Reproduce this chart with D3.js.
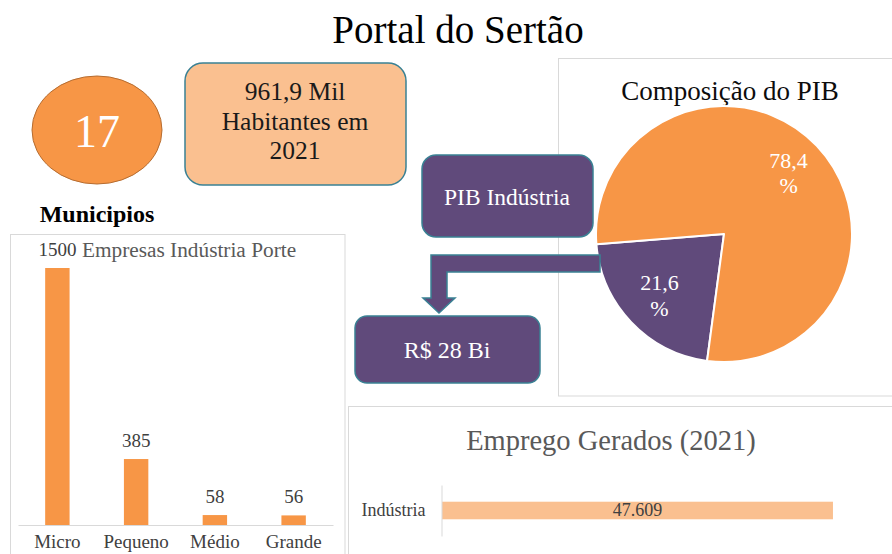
<!DOCTYPE html>
<html>
<head>
<meta charset="utf-8">
<script src="https://cdn.jsdelivr.net/npm/d3@7"></script>
<style>
  html, body { margin: 0; padding: 0; background: #fff; }
  svg { display: block; }
  svg text { font-family: "Liberation Serif", "Times New Roman", "DejaVu Serif", serif; }
</style>
</head>
<body>
<div id="chart"></div>
<script>
const municipios = 17;
const habitantesLabel = ['961,9 Mil', 'Habitantes em', '2021'];
const pibIndustriaLabel = 'R$ 28 Bi';

const portes = ['Micro', 'Pequeno', 'Médio', 'Grande'];
const empresas = [1500, 385, 58, 56];

const pibSetores = ['Indústria', 'Demais setores'];
const pibShares = [21.6, 78.4];

const empregoSetores = ['Indústria'];
const empregos = [47609];

// colours
const orange = '#f79646';
const lightOrange = '#fac090';
const purple = '#604a7b';
const teal = '#3a8194';
const grid = '#d9d9d9';
const serif = '"Liberation Serif", "Times New Roman", "DejaVu Serif", serif';

const br = d3.formatLocale({ decimal: ',', thousands: '.', grouping: [3], currency: ['R$ ', ''] });

const svg = d3.select('#chart').append('svg')
  .attr('width', 892)
  .attr('height', 554);

// page title
svg.append('text')
  .attr('x', 458).attr('y', 43)
  .attr('text-anchor', 'middle')
  .attr('font-size', 39)
  .attr('fill', '#000')
  .text('Portal do Sertão');

// ---- KPI shapes ----
svg.append('ellipse')
  .attr('cx', 97).attr('cy', 130).attr('rx', 65).attr('ry', 54)
  .attr('fill', orange).attr('stroke', '#b66d31').attr('stroke-width', 1);
svg.append('text')
  .attr('x', 97).attr('y', 147)
  .attr('text-anchor', 'middle')
  .attr('font-size', 46).attr('fill', '#fff')
  .text(municipios);
svg.append('text')
  .attr('x', 97).attr('y', 222)
  .attr('text-anchor', 'middle')
  .attr('font-size', 24).attr('font-weight', 'bold')
  .text('Municipios');

svg.append('rect')
  .attr('x', 185).attr('y', 63).attr('width', 221).attr('height', 122)
  .attr('rx', 18)
  .attr('fill', lightOrange).attr('stroke', teal).attr('stroke-width', 1.5);
svg.append('g').selectAll('text')
  .data(habitantesLabel)
  .join('text')
  .attr('x', 295).attr('y', (d, i) => 100 + i * 29.5)
  .attr('text-anchor', 'middle')
  .attr('font-size', 25.5).attr('fill', '#1a1a1a')
  .text(d => d);

// ---- panels ----
svg.append('rect').attr('x', 10.5).attr('y', 234.5).attr('width', 334.5).attr('height', 340)
  .attr('fill', '#fff').attr('stroke', grid);
svg.append('rect').attr('x', 558.5).attr('y', 58.5).attr('width', 360).attr('height', 337.5)
  .attr('fill', '#fff').attr('stroke', grid);
svg.append('rect').attr('x', 348.5).attr('y', 406.5).attr('width', 570).attr('height', 200)
  .attr('fill', '#fff').attr('stroke', grid);

// ---- bar chart: empresas por porte ----
const x = d3.scaleBand().domain(portes).range([18, 333]).paddingInner(0.69).paddingOuter(0.345);
const y = d3.scaleLinear().domain([0, 1500]).range([525, 268]);
const porteData = portes.map((p, i) => ({ porte: p, value: empresas[i] }));

const barChart = svg.append('g');
barChart.append('text')
  .attr('x', 82).attr('y', 257)
  .attr('font-size', 21.3).attr('fill', '#595959')
  .text('Empresas Indústria Porte');

barChart.selectAll('rect.bar')
  .data(porteData)
  .join('rect')
  .attr('class', 'bar')
  .attr('x', d => x(d.porte))
  .attr('y', d => y(d.value))
  .attr('width', x.bandwidth())
  .attr('height', d => y(0) - y(d.value))
  .attr('fill', orange);

barChart.selectAll('text.val')
  .data(porteData)
  .join('text')
  .attr('class', 'val')
  .attr('x', d => x(d.porte) + x.bandwidth() / 2)
  .attr('y', d => y(d.value) - 12)
  .attr('text-anchor', 'middle')
  .attr('font-size', 19).attr('fill', '#404040')
  .text(d => d.value);

// category labels sit right at the bottom edge, as in the dashboard
const xAxis = barChart.append('g')
  .attr('transform', `translate(0,${y(0)})`)
  .call(d3.axisBottom(x).tickSize(0).tickPadding(10));
xAxis.select('.domain').attr('stroke', grid);
xAxis.selectAll('text')
  .attr('font-size', 19).attr('fill', '#404040')
  .attr('font-family', serif);

// ---- pie: composição do PIB ----
svg.append('text')
  .attr('x', 730).attr('y', 100)
  .attr('text-anchor', 'middle')
  .attr('font-size', 27).attr('fill', '#0d0d0d')
  .text('Composição do PIB');

const pieData = pibSetores.map((s, i) => ({ setor: s, share: pibShares[i] }));
const pie = d3.pie().sort(null).value(d => d.share).startAngle(187.6 * Math.PI / 180)
  .endAngle(187.6 * Math.PI / 180 + 2 * Math.PI);
const arc = d3.arc().innerRadius(0).outerRadius(128);
const labelArc = d3.arc().innerRadius(89).outerRadius(89);

const pieG = svg.append('g').attr('transform', 'translate(724,234)');
pieG.selectAll('path')
  .data(pie(pieData))
  .join('path')
  .attr('d', arc)
  .attr('fill', d => (d.data.setor === 'Indústria' ? purple : orange))
  .attr('stroke', '#fff').attr('stroke-width', 2).attr('stroke-linejoin', 'round');

const pieLabels = pieG.selectAll('text')
  .data(pie(pieData))
  .join('text')
  .attr('transform', d => `translate(${labelArc.centroid(d)})`)
  .attr('text-anchor', 'middle')
  .attr('font-size', 22).attr('fill', '#fff');
pieLabels.append('tspan').attr('x', 0).attr('y', -5).text(d => br.format(',.1f')(d.data.share));
pieLabels.append('tspan').attr('x', 0).attr('y', 20.5).text('%');

// ---- PIB Indústria boxes and bent arrow ----
svg.append('rect')
  .attr('x', 422).attr('y', 155).attr('width', 171).attr('height', 82).attr('rx', 14)
  .attr('fill', purple).attr('stroke', teal).attr('stroke-width', 1.5);
svg.append('text')
  .attr('x', 507).attr('y', 205)
  .attr('text-anchor', 'middle')
  .attr('font-size', 23.5).attr('fill', '#fff')
  .text('PIB Indústria');

svg.append('path')
  .attr('d', 'M600,255H431V298H423L439,313L455,298H447V272H600Z')
  .attr('fill', purple).attr('stroke', teal).attr('stroke-width', 1.5);

svg.append('rect')
  .attr('x', 355).attr('y', 316).attr('width', 185).attr('height', 67).attr('rx', 12)
  .attr('fill', purple).attr('stroke', teal).attr('stroke-width', 1.5);
svg.append('text')
  .attr('x', 447).attr('y', 358)
  .attr('text-anchor', 'middle')
  .attr('font-size', 24).attr('fill', '#fff')
  .text(pibIndustriaLabel);

// ---- horizontal bar: empregos gerados ----
svg.append('text')
  .attr('x', 611).attr('y', 450)
  .attr('text-anchor', 'middle')
  .attr('font-size', 28.5).attr('fill', '#595959')
  .text('Emprego Gerados (2021)');

const xe = d3.scaleLinear().domain([0, 50000]).range([442, 852.6]);
const ye = d3.scaleBand().domain(empregoSetores).range([485, 536]).paddingInner(0).paddingOuter(0.95);
const empData = empregoSetores.map((s, i) => ({ setor: s, value: empregos[i] }));

const empG = svg.append('g');
empG.selectAll('rect')
  .data(empData)
  .join('rect')
  .attr('x', xe(0))
  .attr('y', d => ye(d.setor))
  .attr('width', d => xe(d.value) - xe(0))
  .attr('height', ye.bandwidth())
  .attr('fill', lightOrange);

empG.selectAll('text.val')
  .data(empData)
  .join('text')
  .attr('class', 'val')
  .attr('x', d => (xe(0) + xe(d.value)) / 2)
  .attr('y', d => ye(d.setor) + ye.bandwidth() / 2)
  .attr('dy', '0.32em')
  .attr('text-anchor', 'middle')
  .attr('font-size', 18).attr('fill', '#404040')
  .text(d => br.format(',')(d.value));

const yAxis = empG.append('g')
  .attr('transform', `translate(${xe(0) - 0.5},0)`)
  .call(d3.axisLeft(ye).tickSize(0).tickPadding(16).tickSizeOuter(0));
yAxis.select('.domain').attr('stroke', grid);
yAxis.selectAll('text')
  .attr('font-size', 18).attr('fill', '#404040')
  .attr('font-family', serif);
</script>
</body>
</html>
